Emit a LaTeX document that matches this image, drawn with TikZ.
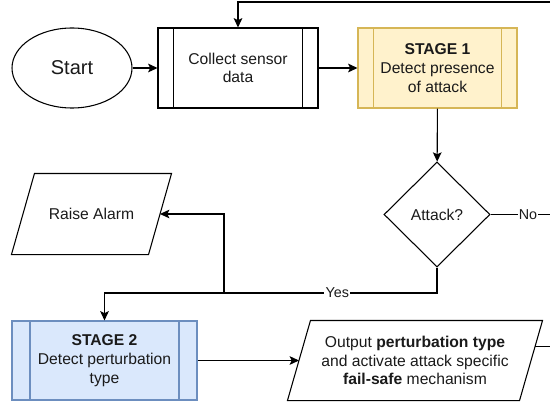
\documentclass[tikz,border=0pt]{standalone}
\usepackage{fontspec}
\setmainfont{Liberation Sans}
\usepackage{xcolor}
\definecolor{StageOneFill}{HTML}{FFF2CC}
\definecolor{StageOneLine}{HTML}{D6B656}
\definecolor{StageTwoFill}{HTML}{DAE8FC}
\definecolor{StageTwoLine}{HTML}{6C8EBF}
\definecolor{InkGray}{HTML}{1A1A1A}
\usepackage{tikz}
\usetikzlibrary{arrows.meta,positioning,calc,shapes.geometric}

\begin{document}
\begin{tikzpicture}[x=0.75pt,y=-0.75pt,line width=0.8pt,
  font=\fontsize{11.75}{14}\selectfont,text=InkGray]
\tikzset{
  terminal/.style={ellipse,draw=black,inner sep=0pt,minimum width=90pt,minimum height=60pt,
    font=\fontsize{15}{17}\selectfont},
  process/.style={rectangle,draw=black,inner sep=2pt,minimum height=60pt,align=center},
  decision/.style={diamond,draw=black,inner sep=0pt,minimum width=79.5pt,minimum height=78.75pt},
  iobox/.style={rectangle,inner sep=0pt,minimum height=60pt,align=center},
  flow/.style={draw=black,-{Stealth[length=7pt,width=6.5pt,inset=1.5pt]}},
  link/.style={draw=black},
  lbl/.style={fill=white,inner sep=1pt,font=\fontsize{10.75}{12}\selectfont}
}
\useasboundingbox (0,0) rectangle (550,403);

% Top row: start, acquisition and first stage
\node[terminal] (start) at (72,68) {Start};
\node[process,minimum width=120pt] (collect) at (238,68) {Collect sensor\\data};
\node[process,minimum width=119.25pt,fill=StageOneFill,draw=StageOneLine] (stage1) at (437.5,68)
  {\textbf{STAGE 1}\\Detect presence\\of attack};

% Decision and its outcomes
\node[decision] (attack) at (437,214.5) {Attack?};
\node[iobox,minimum width=119.25pt] (alarm) at (91.5,214) {Raise Alarm};
\node[process,minimum width=138.75pt,minimum height=59.25pt,fill=StageTwoFill,draw=StageTwoLine]
  (stage2) at (104.5,360.5) {\textbf{STAGE 2}\\Detect perturbation\\type};
\node[iobox,minimum width=190.5pt,minimum height=59.25pt] (output) at (415,360.5)
  {Output \textbf{perturbation type}\\and activate attack specific\\\textbf{fail-safe} mechanism};

% Side bars of the predefined-process boxes (one tenth of the width)
\foreach \n/\d/\c in {collect/12pt/black,stage1/11.9pt/StageOneLine,stage2/13.9pt/StageTwoLine}
  \draw[\c] ([xshift=\d]\n.north west) -- ([xshift=\d]\n.south west)
    ([xshift=-\d]\n.north east) -- ([xshift=-\d]\n.south east);

% Parallelogram outlines for the input/output boxes
\foreach \n in {alarm,output}
  \draw[black] ([xshift=17.25pt]\n.north west) -- (\n.north east)
    -- ([xshift=-17.25pt]\n.south east) -- (\n.south west) -- cycle;

% Connector end points
\coordinate (loopR) at (550,2);
\coordinate (noR) at (550,214.5);
\coordinate (fork) at (224,293);
\coordinate (alarmIn) at ([xshift=-8.625pt]alarm.east);
\coordinate (outIn) at ([xshift=8.625pt]output.west);
\coordinate (outEx) at ($(output.north east)!0.33!([xshift=-17.25pt]output.south east)$);
\coordinate (outR) at (550,347);

\draw[flow] (loopR) -| (collect.north);
\draw[flow] (start) -- (collect);
\draw[flow] (collect) -- (stage1);
\draw[flow] (stage1) -- (attack);
\draw[link] (attack.east) -- node[lbl,pos=0.63] {No} (noR);
\draw[flow] (attack.south) -- (attack.south |- fork) coordinate (yesT)
  -- node[lbl,pos=0.3] {Yes} (yesT -| stage2.north) -- (stage2.north);
\draw[flow] (fork) |- (alarmIn);
\draw[flow] (stage2.east) -- (outIn);
\draw[link] (outEx) -- (outEx -| outR);
\end{tikzpicture}
\end{document}
